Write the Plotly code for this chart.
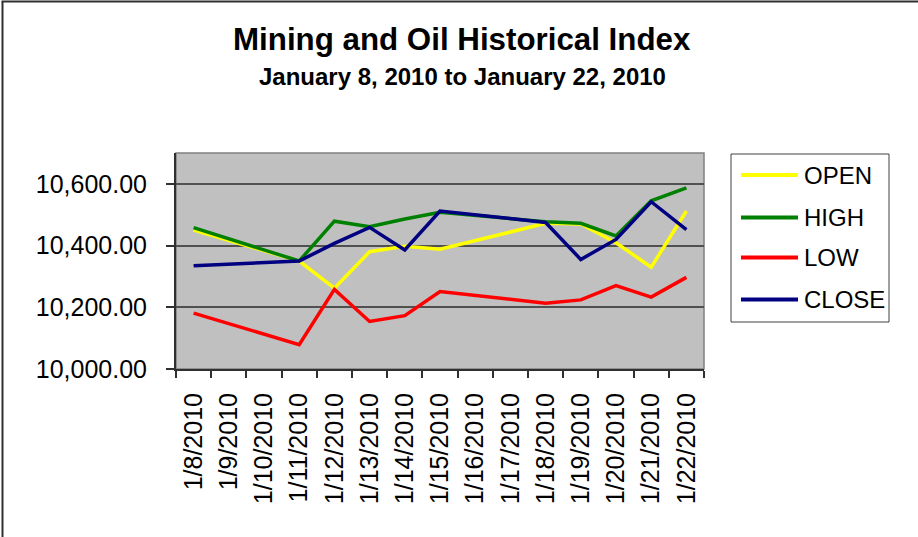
import plotly.graph_objects as go

dates = ["1/8/2010", "1/9/2010", "1/10/2010", "1/11/2010", "1/12/2010", "1/13/2010",
         "1/14/2010", "1/15/2010", "1/16/2010", "1/17/2010", "1/18/2010", "1/19/2010",
         "1/20/2010", "1/21/2010", "1/22/2010"]

open_vals = [10450, None, None, 10350, 10262, 10380, 10398, 10388, None, None, 10472, 10470, 10409, 10330, 10512]
high_vals = [10458, None, None, 10350, 10479, 10461, 10486, 10508, None, None, 10477, 10472, 10431, 10545, 10587]
low_vals = [10181, None, None, 10079, 10258, 10154, 10173, 10251, None, None, 10213, 10224, 10270, 10233, 10297]
close_vals = [10335, None, None, 10350, 10407, 10459, 10386, 10512, None, None, 10475, 10355, 10420, 10542, 10452]

series_names = ["OPEN", "HIGH", "LOW", "CLOSE"]
series_vals = [open_vals, high_vals, low_vals, close_vals]
series_colors = ["#FFFF00", "#008000", "#FF0000", "#000080"]

title_text = "Mining and Oil Historical Index"
subtitle_text = "January 8, 2010 to January 22, 2010"

W, H = 918, 537
ML, MR, MT, MB = 176, 214, 153, 168
PW, PH = W - ML - MR, H - MT - MB

def px_x(px):
    return (px - ML) / PW

def px_y(py):
    return (H - MB - py) / PH

FONT = "Liberation Sans, Arial, sans-serif"

fig = go.Figure()
for name, vals, col in zip(series_names, series_vals, series_colors):
    fig.add_trace(go.Scatter(
        x=dates, y=vals, name=name, mode="lines",
        connectgaps=True,
        line=dict(color=col, width=3.5),
        showlegend=False,
    ))

shapes = [
    dict(type="rect", xref="x domain", yref="y domain", x0=0, x1=1, y0=0, y1=1,
         line=dict(color="#808080", width=1.5), layer="below"),
    dict(type="line", xref="paper", yref="paper",
         x0=px_x(2.5), x1=px_x(2.5), y0=px_y(1.5), y1=px_y(H + 2),
         line=dict(color="#303030", width=2)),
    dict(type="line", xref="paper", yref="paper",
         x0=px_x(1.5), x1=px_x(W + 2), y0=px_y(1.5), y1=px_y(1.5),
         line=dict(color="#303030", width=2)),
    # legend box
    dict(type="rect", xref="paper", yref="paper",
         x0=px_x(731), x1=px_x(889), y0=px_y(154), y1=px_y(322),
         line=dict(color="#404040", width=1), fillcolor="white"),
]

annotations = [
    dict(text="<b>" + title_text + "</b>", xref="paper", yref="paper",
         x=px_x(462), y=px_y(39), xanchor="center", yanchor="middle",
         showarrow=False, font=dict(size=31.3, family=FONT, color="black")),
    dict(text="<b>" + subtitle_text + "</b>", xref="paper", yref="paper",
         x=px_x(462), y=px_y(76), xanchor="center", yanchor="middle",
         showarrow=False, font=dict(size=24, family=FONT, color="black")),
]

legend_rows = [175, 217.5, 257.5, 299.5]
for name, col, ry in zip(series_names, series_colors, legend_rows):
    shapes.append(dict(type="line", xref="paper", yref="paper",
                       x0=px_x(741), x1=px_x(798), y0=px_y(ry), y1=px_y(ry),
                       line=dict(color=col, width=4)))
    annotations.append(dict(text=name, xref="paper", yref="paper",
                            x=px_x(802), y=px_y(ry), xanchor="left", yanchor="middle",
                            showarrow=False, font=dict(size=24, family=FONT, color="black")))

fig.update_layout(
    width=W, height=H,
    margin=dict(l=ML, r=MR, t=MT, b=MB, pad=0),
    paper_bgcolor="white",
    plot_bgcolor="#C0C0C0",
    font=dict(family=FONT, color="black", size=25),
    showlegend=False,
    xaxis=dict(
        type="category", categoryarray=dates, categoryorder="array",
        range=[-0.5, len(dates) - 0.5],
        showline=True, linecolor="#303030", linewidth=2,
        ticks="outside", tickson="boundaries", ticklen=7, tickwidth=1.5, tickcolor="#303030",
        tickangle=-90, tickfont=dict(size=25, family=FONT, color="black"),
        ticklabelstandoff=12,
        showgrid=False, zeroline=False,
    ),
    yaxis=dict(
        range=[10000, 10700], tick0=10000, dtick=200, tickformat=",.2f",
        showgrid=True, gridcolor="#505050", gridwidth=1.5,
        showline=True, linecolor="#303030", linewidth=2,
        ticks="outside", ticklen=8, tickwidth=1.5, tickcolor="#303030",
        tickfont=dict(size=25, family=FONT, color="black"),
        ticklabelstandoff=14,
        zeroline=False,
    ),
    shapes=shapes,
    annotations=annotations,
)

fig.write_html(
    "out.html",
    config={"displayModeBar": False},
    post_script="document.body.style.margin='0';document.body.style.overflow='hidden';",
)
